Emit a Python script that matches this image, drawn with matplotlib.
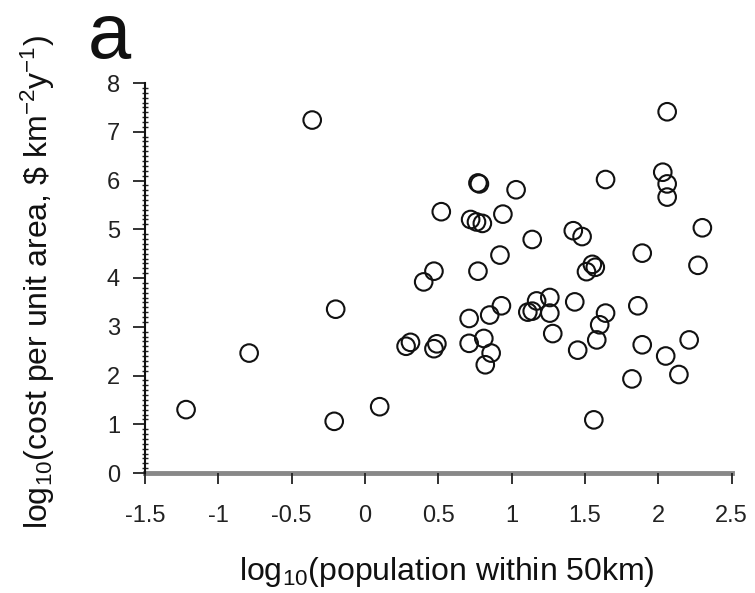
import matplotlib
matplotlib.use("Agg")
import matplotlib.pyplot as plt
from matplotlib.ticker import MultipleLocator

plt.rcParams['font.family'] = ['Liberation Sans', 'DejaVu Sans']
plt.rcParams['mathtext.fontset'] = 'custom'
plt.rcParams['mathtext.rm'] = 'Liberation Sans'
plt.rcParams['mathtext.it'] = 'Liberation Sans'
plt.rcParams['mathtext.default'] = 'regular'

log_population = [
    -1.22, -0.79, -0.36, -0.20, -0.21, 0.10, 0.28, 0.31, 0.47, 0.49,
    0.40, 0.47, 0.52, 0.71, 0.71, 0.77, 0.78, 0.72, 0.76, 0.80,
    0.77, 0.81, 0.85, 0.86, 0.82, 0.93, 0.92, 0.94, 1.03, 1.11,
    1.14, 1.14, 1.17, 1.26, 1.26, 1.28, 1.42, 1.43, 1.45, 1.48,
    1.51, 1.55, 1.57, 1.56, 1.58, 1.60, 1.64, 1.64, 1.82, 1.86,
    1.89, 1.89, 2.03, 2.05, 2.06, 2.06, 2.06, 2.14, 2.21, 2.27,
    2.30,
]
log_cost = [
    1.30, 2.46, 7.24, 3.36, 1.06, 1.36, 2.60, 2.68, 2.55, 2.65,
    3.92, 4.14, 5.36, 3.17, 2.66, 5.95, 5.93, 5.20, 5.15, 5.12,
    4.14, 2.76, 3.24, 2.46, 2.22, 3.43, 4.47, 5.31, 5.81, 3.30,
    3.32, 4.79, 3.53, 3.60, 3.28, 2.86, 4.97, 3.51, 2.52, 4.85,
    4.13, 4.28, 4.22, 1.09, 2.73, 3.04, 3.28, 6.02, 1.93, 3.43,
    4.51, 2.63, 6.17, 2.40, 7.41, 5.93, 5.66, 2.02, 2.73, 4.26,
    5.03,
]
x_ticks = [-1.5, -1, -0.5, 0, 0.5, 1, 1.5, 2, 2.5]
x_tick_labels = ["-1.5", "-1", "-0.5", "0", "0.5", "1", "1.5", "2", "2.5"]
y_ticks = [0, 1, 2, 3, 4, 5, 6, 7, 8]

fig = plt.figure(figsize=(7.55, 5.93), dpi=100)
ax = fig.add_axes([145/755, 1-473/593, (731.7-145)/755, (473-83)/593])

ax.scatter(log_population, log_cost, s=160, facecolors='none',
           edgecolors='#111111', linewidths=1.5, zorder=3, clip_on=False)

ax.set_xlim(-1.5, 2.5)
ax.set_ylim(0, 8)
ax.set_xticks(x_ticks)
ax.set_xticklabels(x_tick_labels)
ax.set_yticks(y_ticks)
ax.yaxis.set_minor_locator(MultipleLocator(0.1))

for s in ['top', 'right']:
    ax.spines[s].set_visible(False)
ax.spines['left'].set_linewidth(1.5)
ax.spines['left'].set_color('#111111')
ax.spines['bottom'].set_linewidth(3.5)
ax.spines['bottom'].set_color('#888888')
ax.spines['bottom'].set_zorder(1)

ax.tick_params(axis='x', direction='out', length=8, width=1.3, colors='#222222',
               labelsize=17, pad=15)
ax.tick_params(axis='y', which='major', direction='out', length=9, width=1.3,
               colors='#222222', labelsize=17, pad=9)
ax.tick_params(axis='y', which='minor', direction='inout', length=4, width=1.0,
               colors='#222222')

ax.set_xlabel("log$_{10}$(population within 50km)", fontsize=23, color='#111111')
ax.xaxis.set_label_coords(0.515, -0.21)
ax.set_ylabel("log$_{10}$(cost per unit area, \\$ km$^{-2}$y$^{-1}$)", fontsize=23,
              color='#111111')
ax.yaxis.set_label_coords(-0.15, 0.49)

fig.text(88/755, 1-58/593, "a", fontsize=56, va='baseline', ha='left', color='#111111')

fig.savefig("out.png", dpi=100)
